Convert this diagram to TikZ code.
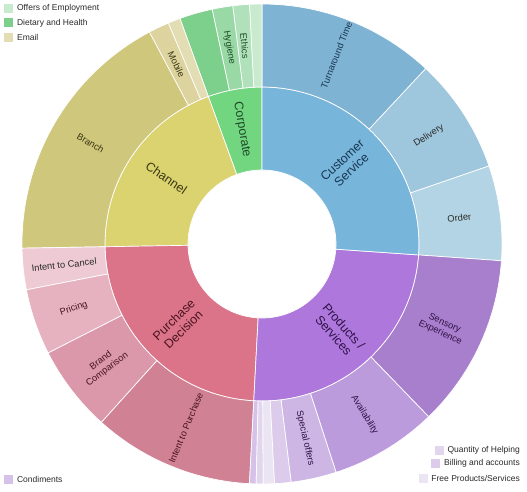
\documentclass[tikz,border=0pt]{standalone}
\usepackage{fontspec}
\setmainfont{Liberation Sans}
\definecolor{cCS}{HTML}{78B5DB}
\definecolor{cCorp}{HTML}{72D680}
\definecolor{cChan}{HTML}{DBD36F}
\definecolor{cPD}{HTML}{DC7489}
\definecolor{cPS}{HTML}{AE77DB}
\definecolor{cOrder}{HTML}{B3D4E4}
\definecolor{cDeliv}{HTML}{9EC6DC}
\definecolor{cTurn}{HTML}{7FB3D3}
\definecolor{cOffers}{HTML}{C8EBD0}
\definecolor{cEthics}{HTML}{B0E1BB}
\definecolor{cHyg}{HTML}{98D9A5}
\definecolor{cDiet}{HTML}{7DD08C}
\definecolor{cEmail}{HTML}{E3DDB3}
\definecolor{cMobile}{HTML}{DCD39F}
\definecolor{cBranch}{HTML}{CFC77C}
\definecolor{cCancel}{HTML}{EECAD4}
\definecolor{cPricing}{HTML}{E6B2BF}
\definecolor{cBrand}{HTML}{DA98AA}
\definecolor{cIntent}{HTML}{D08294}
\definecolor{cCond}{HTML}{D6C2E8}
\definecolor{cQty}{HTML}{E2D6EE}
\definecolor{cBill}{HTML}{DCCBEA}
\definecolor{cFree}{HTML}{EAE4F3}
\definecolor{cSpecial}{HTML}{CDB6E3}
\definecolor{cAvail}{HTML}{BC9BDC}
\definecolor{cSens}{HTML}{A77FCC}
\definecolor{tBlue}{HTML}{173650}
\definecolor{tGreen}{HTML}{1E4A26}
\definecolor{tYel}{HTML}{3A3712}
\definecolor{tRed}{HTML}{4A1422}
\definecolor{tPur}{HTML}{2F1147}
\definecolor{tGray}{HTML}{2A2A2A}
\tikzset{
  sbborder/.style={draw=white, line width=0.7pt, line join=round},
  outlab/.style={font=\fontsize{9.3}{10.3}\selectfont, align=center, inner sep=0pt},
  inlab/.style={font=\fontsize{12.5}{13.5}\selectfont, align=center, inner sep=0pt},
  legsq/.style={minimum size=9pt, inner sep=0pt, draw=none},
  legtext/.style={font=\fontsize{8.5}{10}\selectfont, inner sep=0pt, text=tGray}
}
% #1 start angle, #2 end angle, #3 inner radius, #4 outer radius, #5 colour
\newcommand\sbslice[5]{%
  \draw[sbborder, fill=#5] (#1:#3) arc[start angle=#1, end angle=#2, radius=#3]
    -- (#2:#4) arc[start angle=#2, end angle=#1, radius=#4] -- cycle;}
% #1 angle, #2 radius, #3 node name, #4 style, #5 text
\newcommand\sblabel[5]{%
  \pgfmathsetmacro\sbrot{cos(#1)>=0 ? #1 : #1-180}%
  \node[#4, rotate=\sbrot] (#3) at (#1:#2) {#5};}
\begin{document}
\begin{tikzpicture}[x=1pt, y=1pt]
\useasboundingbox (0,0) rectangle (527,491);
\fill[white] (0,0) rectangle (527,491);
\begin{scope}[shift={(262,247)}]
  % inner ring
  \sbslice{90}{110}{74}{157}{cCorp}
  \sbslice{110}{181}{74}{157}{cChan}
  \sbslice{181}{267}{74}{157}{cPD}
  \sbslice{267}{356}{74}{157}{cPS}
  \sbslice{356}{450}{74}{157}{cCS}
  % outer ring
  \sbslice{356}{379}{157}{240}{cOrder}
  \sbslice{379}{407}{157}{240}{cDeliv}
  \sbslice{407}{450}{157}{240}{cTurn}
  \sbslice{90}{93}{157}{240}{cOffers}
  \sbslice{93}{97}{157}{240}{cEthics}
  \sbslice{97}{102}{157}{240}{cHyg}
  \sbslice{102}{110}{157}{240}{cDiet}
  \sbslice{110}{113}{157}{240}{cEmail}
  \sbslice{113}{118}{157}{240}{cMobile}
  \sbslice{118}{181}{157}{240}{cBranch}
  \sbslice{181}{191}{157}{240}{cCancel}
  \sbslice{191}{207}{157}{240}{cPricing}
  \sbslice{207}{228}{157}{240}{cBrand}
  \sbslice{228}{267}{157}{240}{cIntent}
  \sbslice{267}{268.6}{157}{240}{cCond}
  \sbslice{268.6}{270.3}{157}{240}{cQty}
  \sbslice{270.3}{273}{157}{240}{cFree}
  \sbslice{273}{277}{157}{240}{cBill}
  \sbslice{277}{288}{157}{240}{cSpecial}
  \sbslice{288}{314}{157}{240}{cAvail}
  \sbslice{314}{356}{157}{240}{cSens}
  % inner labels
  \sblabel{100}{116}{lcorp}{inlab, text=tGreen}{Corporate}
  \sblabel{145.5}{116}{lchan}{inlab, text=tYel}{Channel}
  \sblabel{224}{116}{lpd}{inlab, text=tRed}{Purchase\\Decision}
  \sblabel{311.5}{116}{lps}{inlab, text=tPur}{Products /\\Services}
  \sblabel{43}{116}{lcs}{inlab, text=tBlue}{Customer\\Service}
  % outer labels
  \sblabel{7.5}{199}{lorder}{outlab, text=tGray}{Order}
  \sblabel{33}{199}{ldeliv}{outlab, text=tGray}{Delivery}
  \sblabel{68.5}{203}{lturn}{outlab, text=tBlue}{Turnaround Time}
  \sblabel{95}{199}{lethics}{outlab, text=tGreen}{Ethics}
  \sblabel{99.5}{199}{lhyg}{outlab, text=tGreen}{Hygiene}
  \sblabel{115.5}{199}{lmob}{outlab, text=tYel}{Mobile}
  \sblabel{149.5}{199}{lbranch}{outlab, text=tYel}{Branch}
  \sblabel{186}{199}{lcancel}{outlab, text=tGray}{Intent to Cancel}
  \sblabel{199}{199}{lpricing}{outlab, text=tRed}{Pricing}
  \sblabel{217.5}{199}{lbrand}{outlab, text=tRed}{Brand\\Comparison}
  \sblabel{247.5}{199}{lintent}{outlab, text=tRed}{Intent to Purchase}
  \sblabel{282.5}{199}{lspecial}{outlab, text=tPur}{Special offers}
  \sblabel{301}{199}{lavail}{outlab, text=tPur}{Availability}
  \sblabel{335}{199}{lsens}{outlab, text=tPur}{Sensory\\Experience}
\end{scope}
% legends top-left
\node[legsq, fill=cOffers, anchor=west] (sqoffers) at (4,482.5) {};
\node[legtext, anchor=west] (toffers) at ([xshift=3.5pt]sqoffers.east) {Offers of Employment};
\node[legsq, fill=cDiet, anchor=west] (sqdiet) at (4,468) {};
\node[legtext, anchor=west] (tdiet) at ([xshift=3.5pt]sqdiet.east) {Dietary and Health};
\node[legsq, fill=cEmail, anchor=west] (sqemail) at (4,453.5) {};
\node[legtext, anchor=west] (temail) at ([xshift=3.5pt]sqemail.east) {Email};
% legend bottom-left
\node[legsq, fill=cCond, anchor=west] (sqcond) at (4,12) {};
\node[legtext, anchor=west] (tcond) at ([xshift=3.5pt]sqcond.east) {Condiments};
% legends bottom-right
\node[legtext, anchor=east] (tqty) at (520,41) {Quantity of Helping};
\node[legsq, fill=cQty, anchor=east] (sqqty) at ([xshift=-3.5pt]tqty.west) {};
\node[legtext, anchor=east] (tbill) at (520,28) {Billing and accounts};
\node[legsq, fill=cBill, anchor=east] (sqbill) at ([xshift=-3.5pt]tbill.west) {};
\node[legtext, anchor=east] (tfree) at (520,13) {Free Products/Services};
\node[legsq, fill=cFree, anchor=east] (sqfree) at ([xshift=-3.5pt]tfree.west) {};
\end{tikzpicture}
\end{document}
